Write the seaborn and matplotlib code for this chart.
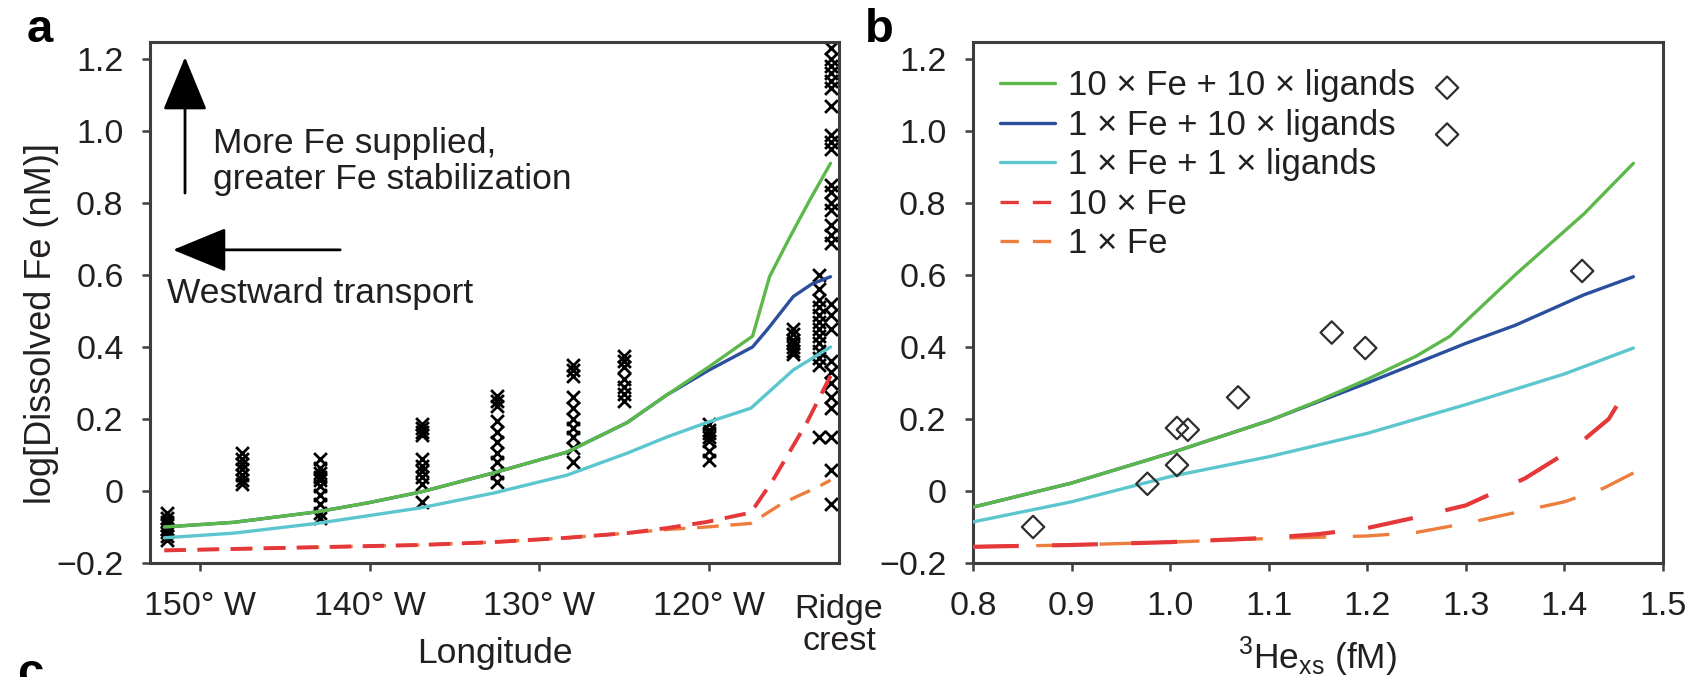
import numpy as np
import pandas as pd
import matplotlib
matplotlib.use("Agg")
import matplotlib.pyplot as plt
from matplotlib.lines import Line2D
import seaborn as sns

# ---------------- panel a: observations along the section ----------------
station_lon = [-151.95, -147.5, -142.9, -136.9, -132.5, -128.0,
               -125.0, -120.0, -115.0, -113.5, -112.8]
station_fe = [
    [-0.06, -0.075, -0.085, -0.095, -0.105, -0.115, -0.125, -0.135],
    [0.105, 0.09, 0.075, 0.06, 0.045, 0.03, 0.02],
    [0.09, 0.065, 0.05, 0.04, 0.03, 0.015, -0.01, -0.035, -0.06, -0.075],
    [0.185, 0.175, 0.165, 0.155, 0.09, 0.07, 0.055, 0.04, 0.02, -0.03],
    [0.265, 0.25, 0.235, 0.195, 0.165, 0.135, 0.105, 0.08, 0.05, 0.025],
    [0.35, 0.335, 0.32, 0.26, 0.23, 0.2, 0.175, 0.15, 0.12, 0.08],
    [0.375, 0.36, 0.345, 0.31, 0.29, 0.27, 0.25],
    [0.185, 0.17, 0.16, 0.15, 0.14, 0.11, 0.085],
    [0.45, 0.435, 0.42, 0.41, 0.40, 0.39, 0.38],
    [0.60, 0.56, 0.53, 0.51, 0.49, 0.47, 0.45, 0.43, 0.41, 0.39, 0.37,
     0.35, 0.15],
    [1.23, 1.20, 1.18, 1.16, 1.14, 1.12, 1.07, 0.99, 0.97, 0.95, 0.85,
     0.83, 0.80, 0.78, 0.74, 0.71, 0.69, 0.52, 0.49, 0.45, 0.36, 0.33,
     0.30, 0.26, 0.23, 0.15, 0.058, -0.035],
]

# ---------------- panel a: model runs vs longitude ----------------
lon_green = [-152.1, -148.0, -143.1, -140.1, -137.0, -132.7, -128.35,
             -124.8, -122.45, -120.0, -117.4, -116.4, -115.2, -114.0, -112.8]
fe_green = [-0.10, -0.087, -0.058, -0.033, -0.003, 0.05, 0.108,
            0.19, 0.267, 0.344, 0.43, 0.595, 0.705, 0.81, 0.91]

lon_blue = [-152.1, -148.0, -143.1, -140.1, -137.0, -132.7, -128.35,
            -124.8, -122.45, -120.0, -117.4, -116.5, -115.0, -113.9, -112.8]
fe_blue = [-0.10, -0.087, -0.058, -0.033, -0.003, 0.05, 0.108,
           0.19, 0.267, 0.335, 0.40, 0.45, 0.54, 0.575, 0.595]

lon_cyan = [-152.1, -148.0, -143.1, -137.0, -132.7, -128.35, -124.8,
            -122.45, -120.1, -117.5, -115.0, -112.8]
fe_cyan = [-0.13, -0.117, -0.09, -0.047, -0.006, 0.044, 0.105,
           0.15, 0.19, 0.23, 0.336, 0.40]

lon_red = [-152.1, -147.0, -142.0, -137.0, -132.7, -128.35, -124.8,
           -122.45, -120.1, -117.5, -116.2, -114.2, -112.8]
fe_red = [-0.165, -0.16, -0.155, -0.15, -0.142, -0.13, -0.117,
          -0.103, -0.086, -0.06, 0.03, 0.19, 0.32]

lon_orange = [-152.1, -147.0, -142.0, -137.0, -132.7, -128.35, -124.8,
              -122.45, -120.1, -117.5, -115.6, -113.6, -112.8]
fe_orange = [-0.165, -0.16, -0.155, -0.15, -0.142, -0.13, -0.117,
             -0.107, -0.10, -0.09, -0.033, 0.01, 0.03]

# ---------------- panel b: observations vs 3He excess ----------------
he_obs = [0.861, 0.977, 1.007, 1.007, 1.018, 1.069, 1.164, 1.198, 1.418,
          1.281, 1.281]
fe_obs = [-0.10, 0.02, 0.072, 0.175, 0.17, 0.26, 0.44, 0.397, 0.611,
          1.12, 0.99]

# ---------------- panel b: model runs vs 3He excess ----------------
he_green = [0.8, 0.9, 1.0, 1.1, 1.15, 1.2, 1.25, 1.284, 1.35, 1.42, 1.47]
fe_green_b = [-0.045, 0.022, 0.105, 0.195, 0.25, 0.31, 0.375, 0.43,
              0.60, 0.77, 0.91]

he_blue = [0.8, 0.9, 1.0, 1.1, 1.2, 1.3, 1.35, 1.42, 1.47]
fe_blue_b = [-0.045, 0.022, 0.105, 0.195, 0.30, 0.41, 0.46, 0.545, 0.595]

he_cyan = [0.8, 0.9, 1.0, 1.1, 1.2, 1.3, 1.4, 1.47]
fe_cyan_b = [-0.086, -0.03, 0.04, 0.095, 0.16, 0.24, 0.325, 0.397]

he_red = [0.8, 0.9, 1.0, 1.1, 1.15, 1.2, 1.245, 1.30, 1.36, 1.41, 1.445,
          1.465]
fe_red_b = [-0.155, -0.15, -0.142, -0.13, -0.12, -0.103, -0.076, -0.04,
            0.035, 0.12, 0.20, 0.29]

he_orange = [0.8, 0.9, 1.0, 1.1, 1.2, 1.25, 1.3, 1.35, 1.4, 1.44, 1.47]
fe_orange_b = [-0.155, -0.15, -0.142, -0.132, -0.125, -0.115, -0.09,
               -0.06, -0.03, 0.008, 0.05]

series_labels = ["10 × Fe + 10 × ligands", "1 × Fe + 10 × ligands",
                 "1 × Fe + 1 × ligands", "10 × Fe", "1 × Fe"]
y_ticks = [-0.2, 0, 0.2, 0.4, 0.6, 0.8, 1.0, 1.2]
y_tick_labels = ["\u22120.2", "0", "0.2", "0.4", "0.6", "0.8", "1.0", "1.2"]
lon_ticks = [-150, -140, -130, -120]
lon_tick_labels = ["150° W", "140° W", "130° W", "120° W"]
he_ticks = [0.8, 0.9, 1.0, 1.1, 1.2, 1.3, 1.4, 1.5]
he_tick_labels = ["0.8", "0.9", "1.0", "1.1", "1.2", "1.3", "1.4", "1.5"]

GREEN = "#5cb84a"
BLUE = "#2b4f9e"
CYAN = "#5cc6cf"
RED = "#e5383b"
ORANGE = "#ec7d3c"
INK = "#231f20"
SPINE = "#3e3e3e"
FS_TICK = 24.5
FS_TEXT = 25.5

sns.set_theme(style="ticks")
plt.rcParams["font.family"] = ["Liberation Sans", "DejaVu Sans"]
plt.rcParams["text.color"] = INK
plt.rcParams["axes.labelcolor"] = INK
plt.rcParams["xtick.color"] = SPINE
plt.rcParams["ytick.color"] = SPINE
plt.rcParams["xtick.labelcolor"] = INK
plt.rcParams["ytick.labelcolor"] = INK
plt.rcParams["mathtext.fontset"] = "custom"
plt.rcParams["mathtext.rm"] = "Liberation Sans"

fig = plt.figure(figsize=(16.95, 6.77), dpi=100)
ax_a = fig.add_axes([0.0885, 0.1684, 0.4065, 0.7696])
ax_b = fig.add_axes([0.5740, 0.1684, 0.4071, 0.7696])

for ax in (ax_a, ax_b):
    for s in ax.spines.values():
        s.set_visible(True)
        s.set_color(SPINE)
        s.set_linewidth(2.2)
    ax.tick_params(axis="both", which="major", direction="out", length=6,
                   width=1.8, labelsize=FS_TICK, top=False, right=False)
    ax.tick_params(axis="y", pad=13)
    ax.tick_params(axis="x", pad=14)
    ax.set_ylim(-0.2, 1.247)
    ax.set_yticks(y_ticks)
    ax.set_yticklabels(y_tick_labels)
    ax.set_facecolor("white")

# ---- panel a ----
obs_a = pd.DataFrame({
    "lon": [lon for lon, vals in zip(station_lon, station_fe) for _ in vals],
    "fe": [v for vals in station_fe for v in vals],
})
sns.scatterplot(data=obs_a, x="lon", y="fe", ax=ax_a, marker="x", s=85,
                color="black", edgecolor="black", linewidth=2.0,
                legend=False, zorder=2)

def draw_line(ax, x, y, color, lw, dashes=None, z=3):
    sns.lineplot(x=x, y=y, ax=ax, color=color, linewidth=lw, sort=False,
                 estimator=None, legend=False, zorder=z)
    line = ax.lines[-1]
    line.set_solid_capstyle("round")
    line.set_solid_joinstyle("round")
    if dashes is not None:
        line.set_dashes(dashes)
        line.set_dash_capstyle("butt")
    return line

draw_line(ax_a, lon_orange, fe_orange, ORANGE, 2.4, (6.5, 3.5))
draw_line(ax_a, lon_red, fe_red, RED, 2.8, (5.5, 3.0))
draw_line(ax_a, lon_cyan, fe_cyan, CYAN, 2.4)
draw_line(ax_a, lon_blue, fe_blue, BLUE, 2.4)
draw_line(ax_a, lon_green, fe_green, GREEN, 2.4)

ax_a.set_xlim(-152.95, -112.3)
ax_a.set_xticks(lon_ticks)
ax_a.set_xticklabels(lon_tick_labels)
ax_a.set_xticks([-112.3], minor=True)
ax_a.set_xticklabels(["Ridge\ncrest"], minor=True, linespacing=1.06)
ax_a.tick_params(axis="x", which="minor", length=0, pad=22,
                 labelsize=FS_TICK)
ax_a.set_xlabel("Longitude", fontsize=FS_TEXT)
ax_a.xaxis.set_label_coords(0.5, -0.142)
ax_a.set_ylabel("log[Dissolved Fe (nM)]", fontsize=26)
ax_a.yaxis.set_label_coords(-0.132, 0.459)

arrow_kw = dict(arrowstyle="-|>,head_length=34,head_width=14",
                mutation_scale=1, color="black", lw=2.0,
                shrinkA=0, shrinkB=0)
ax_a.annotate("", xy=(0.0508, 0.971), xytext=(0.0508, 0.710),
              xycoords="axes fraction", arrowprops=arrow_kw)
ax_a.annotate("", xy=(0.0334, 0.601), xytext=(0.276, 0.601),
              xycoords="axes fraction", arrowprops=arrow_kw)
ax_a.text(0.0914, 0.837, "More Fe supplied,\ngreater Fe stabilization",
          transform=ax_a.transAxes, fontsize=FS_TEXT, va="top", ha="left",
          linespacing=1.1)
ax_a.text(0.0247, 0.549, "Westward transport", transform=ax_a.transAxes,
          fontsize=FS_TEXT, va="top", ha="left")

# ---- panel b ----
draw_line(ax_b, he_orange, fe_orange_b, ORANGE, 2.4, (11, 8))
draw_line(ax_b, he_red, fe_red_b, RED, 3.0, (11, 8))
draw_line(ax_b, he_cyan, fe_cyan_b, CYAN, 2.4)
draw_line(ax_b, he_blue, fe_blue_b, BLUE, 2.4)
draw_line(ax_b, he_green, fe_green_b, GREEN, 2.4)

obs_b = pd.DataFrame({"he": he_obs, "fe": fe_obs})
sns.scatterplot(data=obs_b, x="he", y="fe", ax=ax_b, marker="D", s=130,
                facecolor="none", edgecolor="#2e2e2e", linewidth=1.6,
                legend=False, zorder=4)

ax_b.set_xlim(0.8, 1.5)
ax_b.set_xticks(he_ticks)
ax_b.set_xticklabels(he_tick_labels)
ax_b.set_xlabel(r"$^{3}$He$_{\mathrm{xs}}$ (fM)", fontsize=FS_TEXT)
ax_b.xaxis.set_label_coords(0.5, -0.138)
ax_b.set_ylabel("")

handles = [
    Line2D([], [], color=GREEN, lw=2.4),
    Line2D([], [], color=BLUE, lw=2.4),
    Line2D([], [], color=CYAN, lw=2.4),
    Line2D([], [], color=RED, lw=2.4, dashes=(5.5, 4.2)),
    Line2D([], [], color=ORANGE, lw=2.4, dashes=(5.5, 4.2)),
]
for h in handles[3:]:
    h.set_dash_capstyle("butt")
ax_b.legend(handles, series_labels, loc="upper left",
            bbox_to_anchor=(0.039, 0.948), frameon=False, fontsize=25,
            handlelength=1.58, handletextpad=0.37, labelspacing=0.19,
            borderpad=0, borderaxespad=0)

# panel letters
fig.text(0.016, 1 - 42 / 677, "a", fontsize=34, fontweight="bold",
         va="baseline", ha="left", color="black")
fig.text(0.5105, 1 - 42 / 677, "b", fontsize=34, fontweight="bold",
         va="baseline", ha="left", color="black")
fig.text(0.010, -0.014, "c", fontsize=34, fontweight="bold",
         va="baseline", ha="left", color="black")

fig.savefig("out.png", dpi=100, facecolor="white")
